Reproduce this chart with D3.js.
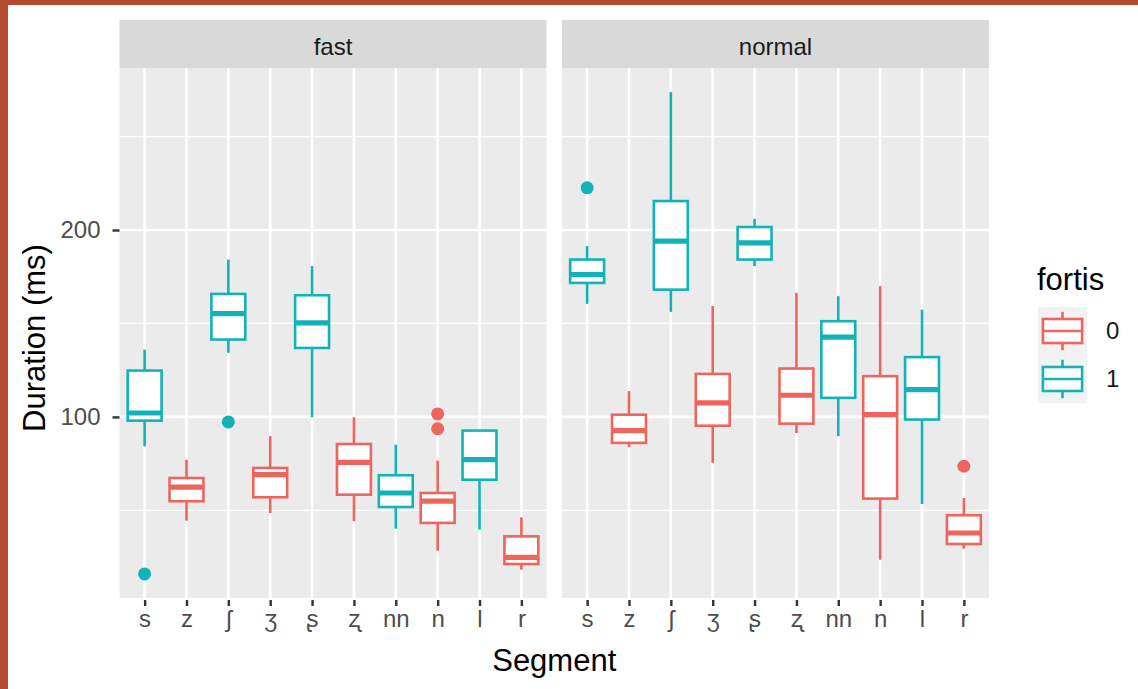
<!DOCTYPE html>
<html>

<head>
    <title>Duration by segment</title>
    <script src="https://d3js.org/d3.v7.min.js"></script>
    <style>
        body { margin: 0; background: #fff; }
        text { font-family: "Liberation Sans", Arial, Helvetica, sans-serif; }
    </style>
</head>

<body>
    <script>
        // categories
        const segments = ['s', 'z', 'ʃ', 'ʒ', 'ʂ', 'ʐ', 'nn', 'n', 'l', 'r'];
        const fortis = [1, 0, 1, 0, 1, 0, 1, 0, 1, 0];
        const speeds = ['fast', 'normal'];
        const fortisLevels = ['0', '1'];
        const yTicks = [100, 200];
        const yMinor = [50, 150, 250];

        // fast: box statistics per segment (ms)
        const fastLower  = [84.3, 44.5, 134.3, 48.6, 99.8, 44.2, 40.2, 28.4, 39.7, 18.3];
        const fastQ1     = [98.0, 54.9, 141.4, 57.0, 136.9, 58.4, 51.8, 43.3, 66.4, 21.3];
        const fastMedian = [102.1, 62.4, 155.3, 69.1, 150.3, 75.7, 59.3, 54.9, 77.1, 24.9];
        const fastQ3     = [124.8, 67.3, 165.8, 72.7, 165.1, 85.5, 68.8, 59.3, 92.7, 36.1];
        const fastUpper  = [136.0, 77.1, 184.2, 89.7, 180.7, 99.8, 85.2, 76.6, 92.7, 46.3];
        const fastOutliers = [[16.0], [], [97.3], [], [], [], [], [101.6, 93.7], [], []];

        // normal: box statistics per segment (ms)
        const normalLower  = [160.5, 83.8, 156.2, 75.4, 180.7, 91.4, 89.7, 23.6, 53.4, 29.5];
        const normalQ1     = [171.7, 86.1, 168.1, 95.3, 184.2, 96.4, 110.2, 56.3, 98.6, 32.0];
        const normalMedian = [176.2, 92.7, 194.1, 107.5, 193.1, 111.6, 142.7, 101.2, 114.6, 37.9];
        const normalQ3     = [184.2, 101.2, 215.5, 123.0, 201.6, 125.9, 151.2, 121.8, 132.0, 47.4];
        const normalUpper  = [191.4, 113.8, 273.8, 159.3, 206.0, 166.4, 164.6, 170.0, 157.4, 56.6];
        const normalOutliers = [[222.6], [], [], [], [], [], [], [], [], [73.6]];

        const msm = {
            width: 1138,
            height: 689,
            top: 68,
            bottom: 598,
            panelW: 427,
            panelX: [119.5, 562],
            stripTop: 20
        }

        const colour = d3.scaleOrdinal()
            .domain(fortisLevels)
            .range(['#EE655E', '#12B3B8']);

        const lw = 2.6;

        function rows(lower, q1, median, q3, upper, outliers) {
            return segments.map((s, i) => ({
                seg: s, f: String(fortis[i]),
                lower: lower[i], q1: q1[i], median: median[i], q3: q3[i], upper: upper[i],
                out: outliers[i]
            }));
        }

        const panels = [
            rows(fastLower, fastQ1, fastMedian, fastQ3, fastUpper, fastOutliers),
            rows(normalLower, normalQ1, normalMedian, normalQ3, normalUpper, normalOutliers)
        ];

        // y domain like ggplot: data range plus 5% each side
        let all = [];
        panels.forEach(p => p.forEach(d => { all.push(d.lower, d.upper, ...d.out); }));
        let lo = d3.min(all), hi = d3.max(all), pad = (hi - lo) * 0.05;

        let y = d3.scaleLinear()
            .domain([lo - pad, hi + pad])
            .range([msm.bottom, msm.top]);

        let svg = d3.select('body')
            .append('svg')
            .attr('width', msm.width)
            .attr('height', msm.height);

        // frame
        svg.append('rect').attr('x', 0).attr('y', 0).attr('width', msm.width).attr('height', 5).attr('fill', '#B3492F');
        svg.append('rect').attr('x', 0).attr('y', 0).attr('width', 8).attr('height', msm.height).attr('fill', '#B3492F');

        panels.forEach((data, pi) => {
            let x0 = msm.panelX[pi];
            let x = d3.scalePoint()
                .domain(segments)
                .range([x0, x0 + msm.panelW])
                .padding(0.6);
            let step = x.step();
            let bw = step * 0.81;

            let g = svg.append('g');

            // strip
            g.append('rect')
                .attr('x', x0).attr('y', msm.stripTop)
                .attr('width', msm.panelW).attr('height', msm.top - msm.stripTop)
                .attr('fill', '#D9D9D9');
            g.append('text')
                .attr('x', x0 + msm.panelW / 2).attr('y', 55)
                .attr('text-anchor', 'middle')
                .attr('font-size', 24)
                .attr('fill', '#1A1A1A')
                .text(speeds[pi]);

            // panel background + grid
            g.append('rect')
                .attr('x', x0).attr('y', msm.top)
                .attr('width', msm.panelW).attr('height', msm.bottom - msm.top)
                .attr('fill', '#EBEBEB');
            g.selectAll('.minor')
                .data(yMinor)
                .enter()
                .append('line')
                .attr('x1', x0).attr('x2', x0 + msm.panelW)
                .attr('y1', d => y(d)).attr('y2', d => y(d))
                .attr('stroke', '#fff').attr('stroke-width', 1.3);
            g.selectAll('.major')
                .data(yTicks)
                .enter()
                .append('line')
                .attr('x1', x0).attr('x2', x0 + msm.panelW)
                .attr('y1', d => y(d)).attr('y2', d => y(d))
                .attr('stroke', '#fff').attr('stroke-width', 2.6);
            g.selectAll('.vgrid')
                .data(segments)
                .enter()
                .append('line')
                .attr('x1', d => x(d)).attr('x2', d => x(d))
                .attr('y1', msm.top).attr('y2', msm.bottom)
                .attr('stroke', '#fff').attr('stroke-width', 2.6);

            // x axis
            let xAxis = g.append('g')
                .attr('transform', `translate(0,${msm.bottom})`)
                .call(d3.axisBottom(x).tickSize(8).tickPadding(4));
            xAxis.select('.domain').remove();
            xAxis.selectAll('line').attr('stroke', '#333').attr('stroke-width', 2.4).attr('y1', 2);
            xAxis.selectAll('text')
                .attr('font-size', 24)
                .attr('fill', '#4D4D4D')
                .attr('font-family', '"Liberation Sans", Arial, "DejaVu Sans", sans-serif');

            // whiskers
            let box = g.selectAll('.box')
                .data(data)
                .enter()
                .append('g');
            box.append('line')
                .attr('x1', d => x(d.seg)).attr('x2', d => x(d.seg))
                .attr('y1', d => y(d.upper)).attr('y2', d => y(d.q3))
                .attr('stroke', d => colour(d.f)).attr('stroke-width', lw);
            box.append('line')
                .attr('x1', d => x(d.seg)).attr('x2', d => x(d.seg))
                .attr('y1', d => y(d.q1)).attr('y2', d => y(d.lower))
                .attr('stroke', d => colour(d.f)).attr('stroke-width', lw);
            box.append('rect')
                .attr('x', d => x(d.seg) - bw / 2)
                .attr('y', d => y(d.q3))
                .attr('width', bw)
                .attr('height', d => y(d.q1) - y(d.q3))
                .attr('fill', '#fff')
                .attr('stroke', d => colour(d.f)).attr('stroke-width', lw);
            box.append('line')
                .attr('x1', d => x(d.seg) - bw / 2).attr('x2', d => x(d.seg) + bw / 2)
                .attr('y1', d => y(d.median)).attr('y2', d => y(d.median))
                .attr('stroke', d => colour(d.f)).attr('stroke-width', lw * 2);

            // outliers
            box.selectAll('circle')
                .data(d => d.out.map(v => ({ v: v, seg: d.seg, f: d.f })))
                .enter()
                .append('circle')
                .attr('cx', d => x(d.seg))
                .attr('cy', d => y(d.v))
                .attr('r', 6.5)
                .attr('fill', d => colour(d.f));
        });

        // y axis
        let yAxis = svg.append('g')
            .attr('transform', `translate(${msm.panelX[0]},0)`)
            .call(d3.axisLeft(y).tickValues(yTicks).tickSize(7).tickPadding(12));
        yAxis.select('.domain').remove();
        yAxis.selectAll('line').attr('stroke', '#333').attr('stroke-width', 2.4);
        yAxis.selectAll('text')
            .attr('font-size', 24)
            .attr('fill', '#4D4D4D')
            .attr('font-family', '"Liberation Sans", Arial, sans-serif');

        // axis titles
        svg.append('text')
            .attr('x', (msm.panelX[0] + msm.panelX[1] + msm.panelW) / 2)
            .attr('y', 671)
            .attr('text-anchor', 'middle')
            .attr('font-size', 31)
            .attr('fill', '#000')
            .text('Segment');
        svg.append('text')
            .attr('transform', `translate(45,${(msm.top + msm.bottom) / 2 + 5}) rotate(-90)`)
            .attr('text-anchor', 'middle')
            .attr('font-size', 31)
            .attr('fill', '#000')
            .text('Duration (ms)');

        // legend
        let legend = svg.append('g').attr('transform', 'translate(1038,307)');
        legend.append('text')
            .attr('x', -1).attr('y', -17)
            .attr('font-size', 31)
            .attr('fill', '#000')
            .text('fortis');
        let kw = 49, kh = 48;
        let key = legend.selectAll('.key')
            .data(fortisLevels)
            .enter()
            .append('g')
            .attr('transform', (d, i) => `translate(0,${i * kh})`);
        key.append('rect')
            .attr('width', kw).attr('height', kh)
            .attr('fill', '#F2F2F2');
        key.append('line')
            .attr('x1', kw / 2).attr('x2', kw / 2)
            .attr('y1', kh * 0.1).attr('y2', kh * 0.9)
            .attr('stroke', d => colour(d)).attr('stroke-width', lw);
        key.append('rect')
            .attr('x', kw * 0.1).attr('y', kh * 0.25)
            .attr('width', kw * 0.8).attr('height', kh * 0.5)
            .attr('fill', '#fff')
            .attr('stroke', d => colour(d)).attr('stroke-width', lw);
        key.append('line')
            .attr('x1', kw * 0.1).attr('x2', kw * 0.9)
            .attr('y1', kh / 2).attr('y2', kh / 2)
            .attr('stroke', d => colour(d)).attr('stroke-width', lw);
        key.append('text')
            .attr('x', kw + 19).attr('y', kh / 2)
            .attr('dy', '0.35em')
            .attr('font-size', 24)
            .attr('fill', '#1A1A1A')
            .text(d => d);
    </script>
</body>
</html>
